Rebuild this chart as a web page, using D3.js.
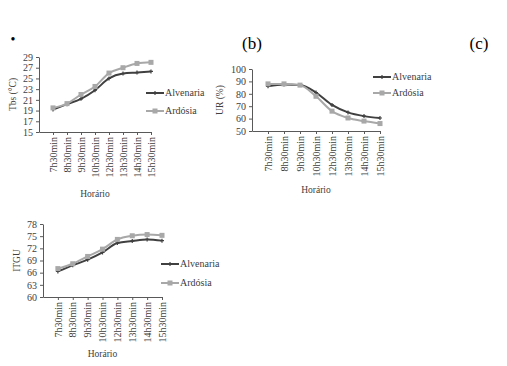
<!DOCTYPE html>
<html>
  <head>
    <meta charset="utf-8" />
    <title>Tbs, UR e ITGU</title>
    <style>
      body { margin: 0; background: #fff; }
      svg, svg text { font-family: 'Liberation Serif', 'Times New Roman', serif; }
      .axis path, .axis line { stroke: #595959; }
      .axis text { font-family: 'Liberation Serif', serif; font-size: 10px; fill: #404040; }
      .lbl { font-size: 9.5px; fill: #404040; }
      .leg { font-size: 10px; fill: #404040; }
    </style>
    <script src="https://d3js.org/d3.v7.min.js"></script>
  </head>
  <body>
    <div id="chart"></div>
    <script>
      const horarios = ["7h30min", "8h30min", "9h30min", "10h30min", "12h30min", "13h30min", "14h30min", "15h30min"];
      const seriesNames = ["Alvenaria", "Ardósia"];

      const tbsAlvenaria = [19.2, 20.2, 21.2, 22.8, 25.0, 25.9, 26.1, 26.3];
      const tbsArdosia = [19.5, 20.3, 22.0, 23.5, 26.0, 27.0, 27.8, 28.0];
      const tbsTicks = [15, 17, 19, 21, 23, 25, 27, 29];

      const urAlvenaria = [86, 87.5, 87, 81, 71, 65, 62, 60.5];
      const urArdosia = [88, 88, 87, 78, 66, 60.5, 58, 56];
      const urTicks = [50, 60, 70, 80, 90, 100];

      const itguAlvenaria = [66.3, 67.8, 69.2, 71.0, 73.3, 73.8, 74.2, 73.9];
      const itguArdosia = [67.0, 68.2, 70.0, 71.8, 74.2, 75.1, 75.4, 75.2];
      const itguTicks = [60, 63, 66, 69, 72, 75, 78];

      const colors = ["#404040", "#a8a8a8"];

      const svg = d3.select("#chart").append("svg")
        .attr("width", 507).attr("height", 366);

      function panel(cfg) {
        const g = svg.append("g");
        // categories sit on ticks, axis starts one step left of the first
        const x = d3.scalePoint().domain(["", ...horarios]).range([cfg.left, cfg.right]);
        const y = d3.scaleLinear().domain(d3.extent(cfg.ticks)).range([cfg.bottom, cfg.top]);

        g.append("g").attr("class", "axis")
          .attr("transform", `translate(${cfg.left},0)`)
          .call(d3.axisLeft(y).tickValues(cfg.ticks).tickSize(3).tickSizeOuter(0));

        const xa = g.append("g").attr("class", "axis")
          .attr("transform", `translate(0,${cfg.bottom})`)
          .call(d3.axisBottom(x).tickValues(horarios).tickSize(3).tickSizeOuter(0));
        xa.selectAll("text")
          .attr("transform", "rotate(-90)")
          .attr("text-anchor", "end")
          .attr("x", -5).attr("y", 0).attr("dy", "0.32em");

        g.append("text").attr("class", "lbl")
          .attr("x", (cfg.left + cfg.right) / 2).attr("y", cfg.xlabY)
          .attr("text-anchor", "middle").text("Horário");

        g.append("text").attr("class", "lbl")
          .attr("transform", `translate(${cfg.ylabX},${(cfg.top + cfg.bottom) / 2}) rotate(-90)`)
          .attr("text-anchor", "middle").text(cfg.ylab);

        const line = d3.line().x((d, i) => x(horarios[i])).y(d => y(d)).curve(d3.curveMonotoneX);

        cfg.data.forEach((vals, k) => {
          g.append("path").datum(vals)
            .attr("fill", "none").attr("stroke", colors[k]).attr("stroke-width", 2)
            .attr("d", line);
          if (k === 1) {
            g.selectAll(null).data(vals).enter().append("rect")
              .attr("x", (d, i) => x(horarios[i]) - 2.5).attr("y", d => y(d) - 2.5)
              .attr("width", 5).attr("height", 5).attr("fill", colors[k]);
          } else {
            g.selectAll(null).data(vals).enter().append("path")
              .attr("d", (d, i) => `M${x(horarios[i]) - 2},${y(d)}h4M${x(horarios[i])},${y(d) - 2}v4`)
              .attr("stroke", colors[k]).attr("stroke-width", 1.2);
          }
        });

        // legend
        seriesNames.forEach((name, k) => {
          const ly = cfg.legY + k * cfg.legGap;
          const lx = cfg.legX;
          g.append("line").attr("x1", lx).attr("x2", lx + 18).attr("y1", ly).attr("y2", ly)
            .attr("stroke", colors[k]).attr("stroke-width", 2);
          if (k === 1) {
            g.append("rect").attr("x", lx + 6.5).attr("y", ly - 2.5).attr("width", 5).attr("height", 5).attr("fill", colors[k]);
          } else {
            g.append("path").attr("d", `M${lx + 9},${ly - 2}v4`).attr("stroke", colors[k]).attr("stroke-width", 1.2);
          }
          g.append("text").attr("class", "leg")
            .attr("x", lx + 19).attr("y", ly).attr("dy", "0.32em").text(name);
        });
      }

      panel({ left: 39, right: 151, top: 57, bottom: 132, ticks: tbsTicks, ylab: "Tbs (°C)", ylabX: 16,
        xlabY: 197, data: [tbsAlvenaria, tbsArdosia], legX: 146, legY: 93, legGap: 18 });
      panel({ left: 252, right: 380, top: 69, bottom: 131, ticks: urTicks, ylab: "UR (%)", ylabX: 223,
        xlabY: 193, data: [urAlvenaria, urArdosia], legX: 373, legY: 77, legGap: 16 });
      panel({ left: 43, right: 162, top: 224, bottom: 297, ticks: itguTicks, ylab: "ITGU", ylabX: 20,
        xlabY: 357, data: [itguAlvenaria, itguArdosia], legX: 161, legY: 264, legGap: 19 });

      svg.append("text").attr("x", 13).attr("y", 44).attr("text-anchor", "middle")
        .style("font-size", "14px").text("•");
      svg.append("text").attr("x", 252).attr("y", 49).attr("text-anchor", "middle")
        .style("font-size", "17px").text("(b)");
      svg.append("text").attr("x", 479).attr("y", 49).attr("text-anchor", "middle")
        .style("font-size", "17px").text("(c)");
    </script>
  </body>
</html>
